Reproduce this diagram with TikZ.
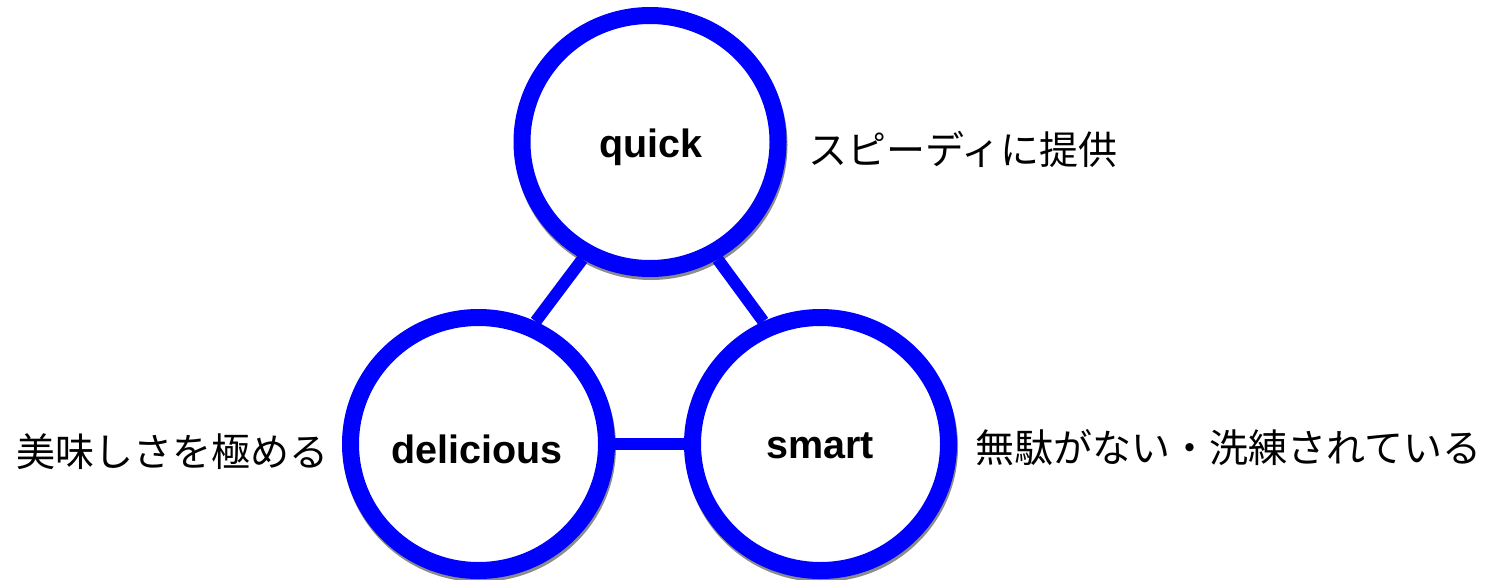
\documentclass[tikz,border=0pt]{standalone}
\usepackage{fontspec}
\usetikzlibrary{shapes.geometric}
\setmainfont{Liberation Sans}
\newfontfamily\labfont{Liberation Sans}
\newfontfamily\jpfont{Noto Sans CJK JP}
\definecolor{ringblue}{RGB}{0,0,255}
\tikzset{
  ring/.style={ellipse, draw=ringblue, line width=17pt, fill=white,
    minimum width=256pt, minimum height=253pt, inner sep=0pt},
  ringshadow/.style={ellipse, draw=black!45, line width=17pt,
    minimum width=256pt, minimum height=253pt, inner sep=0pt},
  link/.style={draw=ringblue, line width=12pt},
  lab/.style={font=\labfont\bfseries\fontsize{39.5}{39.5}\selectfont, inner sep=0pt},
  note/.style={font=\jpfont\fontsize{39}{39}\selectfont, inner sep=0pt, anchor=base west}
}
\begin{document}
\begin{tikzpicture}[x=1pt,y=-1pt]
  \useasboundingbox (0,0) rectangle (1486,579);
  % soft drop shadows under the rings
  \node[ringshadow] (qs) at (651,145) {};
  \node[ringshadow] (ds) at (479.5,447) {};
  \node[ringshadow] (ss) at (821.5,447) {};
  % links between the three rings
  \node[ring, draw=none, fill=none] (qa) at (650,142) {};
  \node[ring, draw=none, fill=none] (da) at (478.5,444) {};
  \node[ring, draw=none, fill=none] (sa) at (820.5,444) {};
  \draw[link] (qa.240) -- (da.65);
  \draw[link] (qa.300) -- (sa.115);
  \draw[link] (da.east) -- (sa.west);
  % the rings
  \node[ring] (q) at (650,142) {};
  \node[ring] (d) at (478.5,444) {};
  \node[ring] (s) at (820.5,444) {};
  % labels inside the rings
  \node[lab, anchor=base] (qt) at (651,157) {quick};
  \node[lab, anchor=base] (dt) at (477,463) {delicious};
  \node[lab, anchor=base] (st) at (820,458) {smart};
  % descriptions
  \node[note] (qn) at (808,164) {スピーディに提供};
  \node[note] (dn) at (16,466) {美味しさを極める};
  \node[note] (sn) at (975,462) {無駄がない・洗練されている};
\end{tikzpicture}
\end{document}
